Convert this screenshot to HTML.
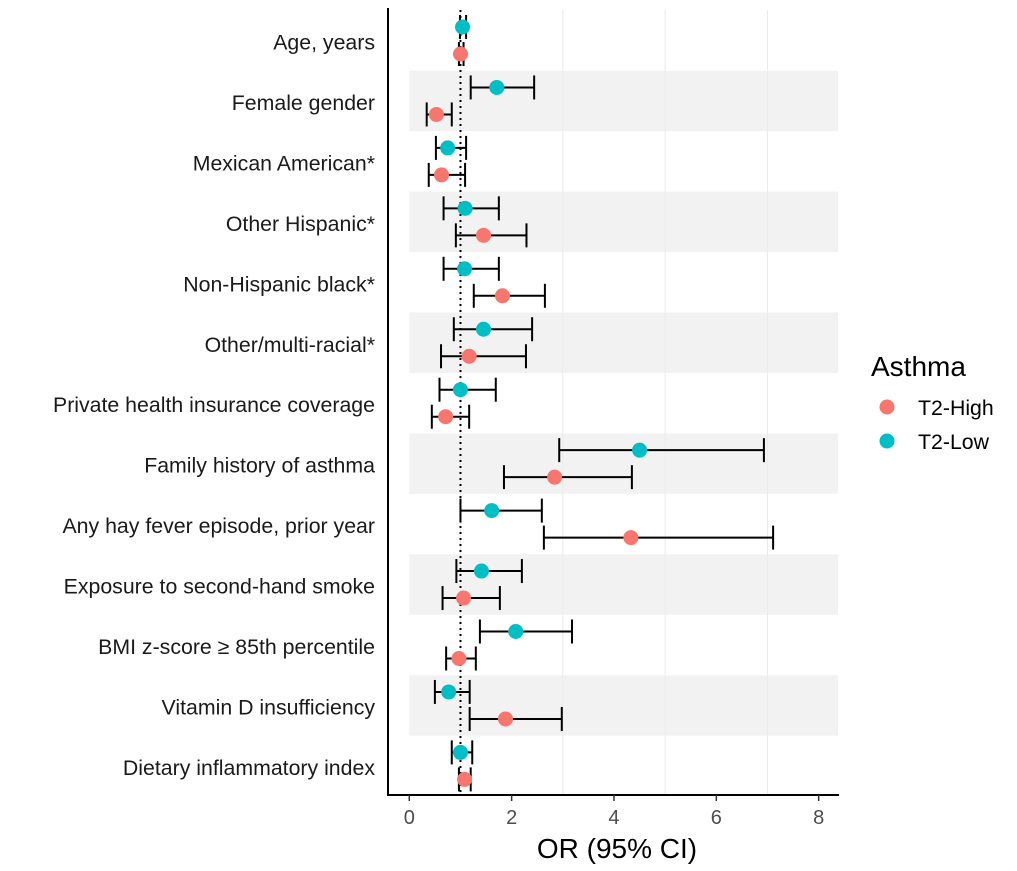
<!DOCTYPE html>
<html><head><meta charset="utf-8"><style>
body{margin:0;background:#fff;}
svg{display:block;font-family:"Liberation Sans",sans-serif;}
</style></head><body>
<svg id="chart" width="1017" height="871"></svg>
<script>
const categories=["Age, years","Female gender","Mexican American*","Other Hispanic*","Non-Hispanic black*","Other/multi-racial*","Private health insurance coverage","Family history of asthma","Any hay fever episode, prior year","Exposure to second-hand smoke","BMI z-score \u2265 85th percentile","Vitamin D insufficiency","Dietary inflammatory index"];
const lowOR=[1.04,1.71,0.75,1.09,1.08,1.45,1.00,4.50,1.61,1.41,2.08,0.77,1.00];
const lowLo=[0.99,1.20,0.52,0.67,0.67,0.87,0.59,2.93,1.00,0.92,1.38,0.50,0.83];
const lowHi=[1.11,2.44,1.11,1.75,1.75,2.40,1.69,6.93,2.59,2.20,3.18,1.18,1.23];
const highOR=[1.00,0.53,0.63,1.45,1.82,1.17,0.71,2.84,4.33,1.06,0.97,1.88,1.08];
const highLo=[0.97,0.34,0.38,0.91,1.26,0.62,0.44,1.85,2.63,0.65,0.72,1.18,0.97];
const highHi=[1.06,0.83,1.09,2.29,2.65,2.28,1.17,4.35,7.11,1.77,1.30,2.98,1.20];
const xTicks=[0,2,4,6,8];
const gridVals=[1,3,5,7];

const NS="http://www.w3.org/2000/svg";
const svg=document.getElementById('chart');
const X0=409.3,PX=51.17;
const x=v=>X0+v*PX;
const rowY=i=>40.5+i*60.45;
const ROWH=60.45;
function mk(tag,attrs,parent){const e=document.createElementNS(NS,tag);for(const k in attrs)e.setAttribute(k,attrs[k]);(parent||svg).appendChild(e);return e;}

categories.forEach((c,i)=>{if(i%2===1){const r=mk('rect',{x:x(0),y:rowY(i)-ROWH/2,width:838-x(0),height:ROWH,fill:'#f2f2f2'});

}});
gridVals.forEach(g=>{const l=mk('line',{x1:x(g),x2:x(g),y1:10,y2:795,stroke:'#ebebeb','stroke-width':1});

});
const ref=mk('line',{x1:x(1),x2:x(1),y1:10,y2:795,stroke:'#000','stroke-width':2,'stroke-dasharray':'2,4'});



function series(or,lo,hi,off,color,name){
  or.forEach((v,i)=>{
    const y=rowY(i)+off;
    const g=mk('g',{});
    
    
    mk('line',{x1:x(lo[i]),x2:x(hi[i]),y1:y,y2:y,stroke:'#000','stroke-width':2},g);
    mk('line',{x1:x(lo[i]),x2:x(lo[i]),y1:y-12,y2:y+12,stroke:'#000','stroke-width':2},g);
    mk('line',{x1:x(hi[i]),x2:x(hi[i]),y1:y-12,y2:y+12,stroke:'#000','stroke-width':2},g);
    mk('circle',{cx:x(v),cy:y,r:7.5,fill:color},g);
  });
}
series(lowOR,lowLo,lowHi,-13.5,'#00bfc4','t2-low');
series(highOR,highLo,highHi,13.5,'#f8766d','t2-high');

const ya=mk('line',{x1:388,x2:388,y1:8,y2:796,stroke:'#000','stroke-width':2});


const xa=mk('line',{x1:387,x2:839,y1:795,y2:795,stroke:'#000','stroke-width':2});


xTicks.forEach(t=>{
  mk('line',{x1:x(t),x2:x(t),y1:795,y2:801,stroke:'#333','stroke-width':1.5});
  const tx=mk('text',{x:x(t),y:824,'font-size':20,fill:'#4d4d4d','text-anchor':'middle'});
  tx.textContent=t;
  
  
});
categories.forEach((c,i)=>{
  const t=mk('text',{x:375,y:rowY(i)+9,'font-size':21.3,fill:'#1a1a1a','text-anchor':'end'});
  t.textContent=c;
  
  
});
const xt=mk('text',{x:617,y:858,'font-size':28,fill:'#000','text-anchor':'middle'});
xt.textContent='OR (95% CI)';



const lg=mk('g',{});


const lt=mk('text',{x:871,y:376,'font-size':28,fill:'#000'},lg);lt.textContent='Asthma';
mk('circle',{cx:887,cy:407,r:7.5,fill:'#f8766d'},lg);
const l1=mk('text',{x:918,y:415,'font-size':21.3,fill:'#000'},lg);l1.textContent='T2-High';
mk('circle',{cx:887,cy:441,r:7.5,fill:'#00bfc4'},lg);
const l2=mk('text',{x:918,y:449,'font-size':21.3,fill:'#000'},lg);l2.textContent='T2-Low';
</script>
</body></html>
